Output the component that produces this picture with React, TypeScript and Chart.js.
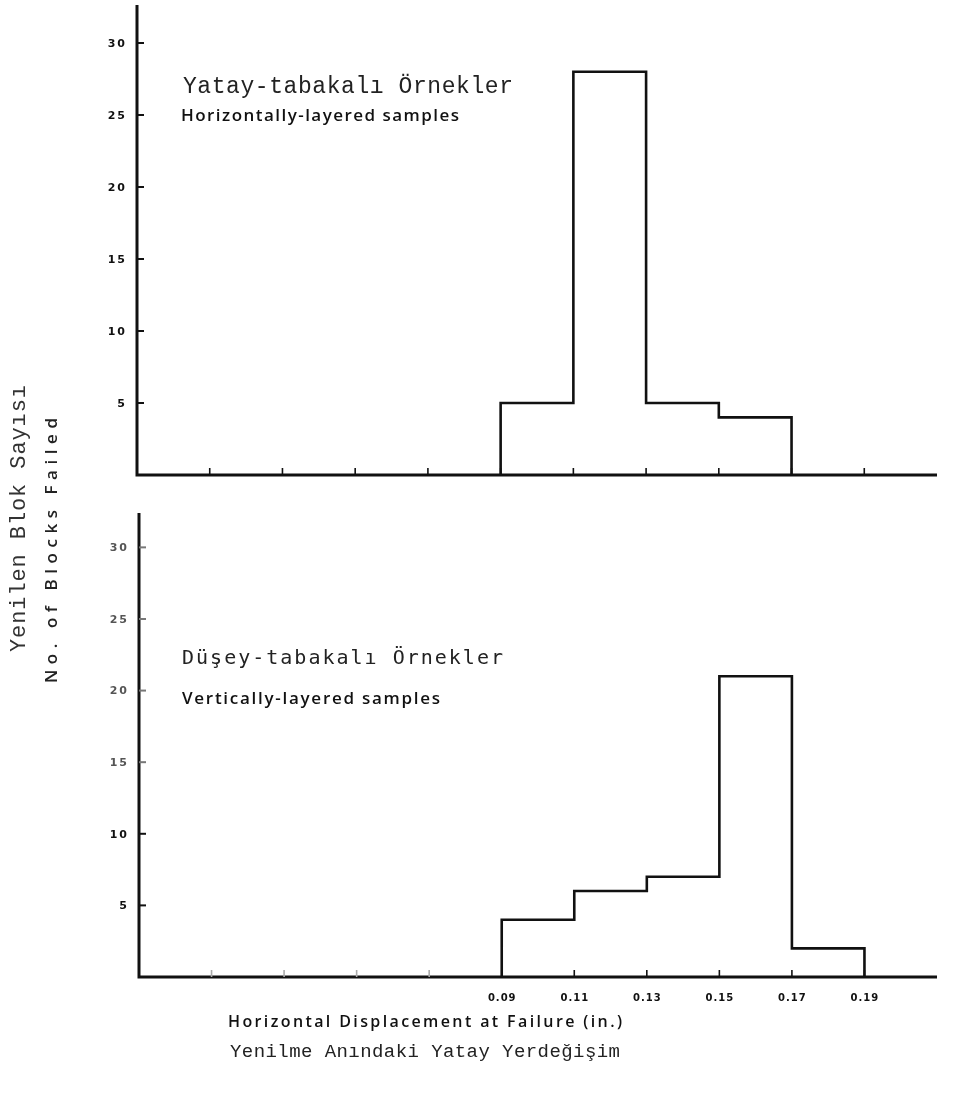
import React, { useEffect, useRef } from "react";
import { Chart, registerables } from "chart.js";

Chart.register(...registerables);

// ---- data ----
const binStarts = [0.09, 0.11, 0.13, 0.15, 0.17];
const binWidth = 0.02;
const horizontalCounts = [5, 28, 5, 4, 0];
const verticalCounts = [4, 6, 7, 21, 2];
const yTickValues = [5, 10, 15, 20, 25, 30];
const xTickValues = [0.01, 0.03, 0.05, 0.07, 0.09, 0.11, 0.13, 0.15, 0.17, 0.19];
const xLabelValues = [0.09, 0.11, 0.13, 0.15, 0.17, 0.19];
const xTickLabels = ["0.09", "0.11", "0.13", "0.15", "0.17", "0.19"];
const xRange = [-0.01, 0.21];

const topTitleTr = "Yatay-tabakalı Örnekler";
const topTitleEn = "Horizontally-layered samples";
const botTitleTr = "Düşey-tabakalı Örnekler";
const botTitleEn = "Vertically-layered samples";
const yTitleTr = "Yenilen Blok Sayısı";
const yTitleEn = "No. of Blocks Failed";
const xTitleEn = "Horizontal Displacement at Failure (in.)";
const xTitleTr = "Yenilme Anındaki Yatay Yerdeğişim";

function stepPoints(counts: number[]) {
  let last = counts.length - 1;
  while (last > 0 && counts[last] === 0) last--;
  const pts: { x: number; y: number }[] = [{ x: binStarts[0], y: 0 }];
  for (let i = 0; i <= last; i++) pts.push({ x: binStarts[i], y: counts[i] });
  pts.push({ x: +(binStarts[last] + binWidth).toFixed(4), y: 0 });
  return pts;
}

function drawFitted(
  ctx: CanvasRenderingContext2D,
  text: string,
  x: number,
  y: number,
  width: number,
  font: string,
  color: string,
  rotate = false
) {
  ctx.save();
  ctx.font = font;
  ctx.fillStyle = color;
  ctx.textAlign = "left";
  ctx.textBaseline = "alphabetic";
  if (rotate) {
    ctx.translate(x, y);
    ctx.rotate(-Math.PI / 2);
    x = 0;
    y = 0;
  }
  const chars = Array.from(text);
  const ws = chars.map((c) => ctx.measureText(c).width);
  const sum = ws.reduce((a, b) => a + b, 0);
  const sp = chars.length > 1 ? (width - sum) / (chars.length - 1) : 0;
  let cx = x;
  chars.forEach((c, i) => {
    ctx.fillText(c, cx, y);
    cx += ws[i] + sp;
  });
  ctx.restore();
}

function drawSpaced(ctx: CanvasRenderingContext2D, text: string, xRight: number, y: number, sp: number) {
  const chars = Array.from(text);
  const ws = chars.map((c) => ctx.measureText(c).width);
  const total = ws.reduce((a, b) => a + b, 0) + sp * (chars.length - 1);
  let cx = xRight - total;
  chars.forEach((c, i) => {
    ctx.fillText(c, cx, y);
    cx += ws[i] + sp;
  });
}

type AxCfg = {
  bottom: boolean;
};

function axesPlugin(cfg: AxCfg) {
  return {
    id: "histAxes",
    afterDraw(chart: any) {
      const ctx: CanvasRenderingContext2D = chart.ctx;
      const a = chart.chartArea;
      const xs = chart.scales.x;
      const ys = chart.scales.y;
      ctx.save();
      ctx.strokeStyle = "#111";
      ctx.lineCap = "butt";
      // axes
      ctx.lineWidth = 3;
      ctx.beginPath();
      ctx.moveTo(a.left, a.top);
      ctx.lineTo(a.left, a.bottom + 1.5);
      ctx.moveTo(a.left - 1.5, a.bottom);
      ctx.lineTo(a.right, a.bottom);
      ctx.stroke();
      // y ticks
      ctx.lineWidth = 2;
      ctx.textBaseline = "middle";
      ctx.textAlign = "left";
      yTickValues.forEach((v) => {
        const py = ys.getPixelForValue(v);
        ctx.strokeStyle = cfg.bottom && v > 10 ? "#777" : "#111";
        ctx.beginPath();
        ctx.moveTo(a.left, py);
        ctx.lineTo(a.left + 7, py);
        ctx.stroke();
        ctx.fillStyle = cfg.bottom && v > 10 ? "#555" : "#111";
        ctx.font = "bold 11px 'DejaVu Sans'";
        drawSpaced(ctx, String(v), a.left - 12, py + 1, 2);
      });
      // x ticks
      xTickValues.forEach((v) => {
        const px = xs.getPixelForValue(v);
        ctx.strokeStyle = cfg.bottom && v < 0.08 ? "#aaa" : "#111";
        ctx.lineWidth = 1.6;
        ctx.beginPath();
        ctx.moveTo(px, a.bottom);
        ctx.lineTo(px, a.bottom - 7);
        ctx.stroke();
      });
      if (cfg.bottom) {
        ctx.fillStyle = "#111";
        ctx.font = "bold 10px 'DejaVu Sans'";
        xLabelValues.forEach((v, i) => {
          const px = xs.getPixelForValue(v);
          const w = ctx.measureText(xTickLabels[i]).width;
          drawSpaced(ctx, xTickLabels[i], px + (w + 3) / 2, a.bottom + 21, 1);
        });
      }
      ctx.restore();

      if (!cfg.bottom) {
        drawFitted(ctx, topTitleTr, 183, 93, 330, "23px 'Liberation Mono'", "#222");
        drawFitted(ctx, topTitleEn, 181, 121, 278, "600 17px 'Open Sans'", "#111");
      } else {
        drawFitted(ctx, botTitleTr, 182, 664, 321, "20px 'DejaVu Sans Mono'", "#222");
        drawFitted(ctx, botTitleEn, 182, 704, 258, "600 17px 'Open Sans'", "#111");
        // page titles
        drawFitted(ctx, yTitleTr, 25, 652, 267, "22px 'Liberation Mono'", "#333", true);
        drawFitted(ctx, yTitleEn, 57, 683, 265, "600 17px 'Open Sans'", "#222", true);
        drawFitted(ctx, xTitleEn, 228, 1027, 394, "600 16px 'Open Sans'", "#111");
        drawFitted(ctx, xTitleTr, 230, 1057, 390, "19px 'Liberation Mono'", "#222");
      }
    },
  };
}

function makeConfig(counts: number[], yMax: number, padding: any, bottom: boolean): any {
  return {
    type: "line",
    data: {
      datasets: [
        {
          data: stepPoints(counts),
          stepped: true,
          borderColor: "#111",
          borderWidth: 2.6,
          pointRadius: 0,
          fill: false,
          tension: 0,
        },
      ],
    },
    options: {
      animation: false,
      responsive: false,
      devicePixelRatio: 1,
      layout: { padding },
      plugins: { legend: { display: false }, tooltip: { enabled: false } },
      scales: {
        x: { type: "linear", min: xRange[0], max: xRange[1], display: false },
        y: { type: "linear", min: 0, max: yMax, display: false },
      },
    },
    plugins: [axesPlugin({ bottom })],
  };
}

export default function App() {
  const refA = useRef<HTMLCanvasElement>(null);
  const refB = useRef<HTMLCanvasElement>(null);

  useEffect(() => {
    const cA = new Chart(
      refA.current as HTMLCanvasElement,
      makeConfig(horizontalCounts, 32.64, { left: 137, top: 5, right: 17, bottom: 1095 - 475 }, false)
    );
    const cB = new Chart(
      refB.current as HTMLCanvasElement,
      makeConfig(verticalCounts, 32.4, { left: 139, top: 513, right: 17, bottom: 1095 - 977 }, true)
    );
    return () => {
      cA.destroy();
      cB.destroy();
    };
  }, []);

  const cs: React.CSSProperties = { position: "absolute", left: 0, top: 0, width: 954, height: 1095 };
  return (
    <div style={{ position: "absolute", left: 0, top: 0, width: 954, height: 1095, background: "#fff" }}>
      <canvas ref={refA} width={954} height={1095} style={cs} />
      <canvas ref={refB} width={954} height={1095} style={cs} />
    </div>
  );
}
